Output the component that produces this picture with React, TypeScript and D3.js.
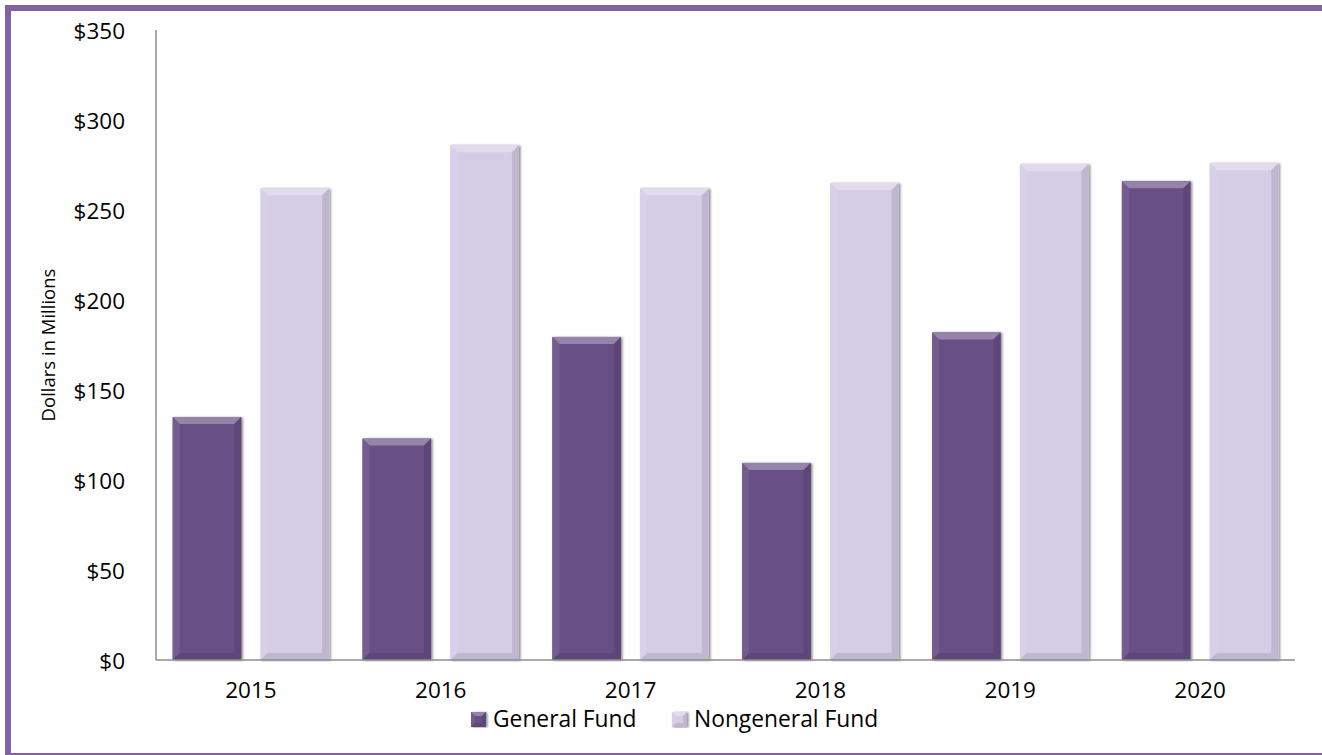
import React from "react";
import * as d3 from "d3";

const years = ["2015", "2016", "2017", "2018", "2019", "2020"];
const generalFund = [135, 123, 179.5, 109.5, 182, 266];
const nongeneralFund = [262, 286, 262, 265, 275.5, 276];
const yTicks = [0, 50, 100, 150, 200, 250, 300, 350];
const seriesNames = ["General Fund", "Nongeneral Fund"];
const seriesColors = ["#674f85", "#d5cce6"];

const W = 1322;
const H = 755;
const FONT = "'Open Sans', sans-serif";

function Bar({ x, y, w, h, color, bevel = 7 }: { x: number; y: number; w: number; h: number; color: string; bevel?: number }) {
  const b = Math.min(bevel, h / 2);
  const c = d3.color(color)!;
  const light = d3.interpolateRgb(color, "#ffffff")(0.3);
  const side = d3.interpolateRgb(color, "#ffffff")(0.08);
  const dark = c.darker(0.3).toString();
  return (
    <g filter="url(#shadow)">
      <rect x={x} y={y} width={w} height={h} fill={color} />
      <polygon points={`${x},${y} ${x + w},${y} ${x + w - b},${y + b} ${x + b},${y + b}`} fill={light} />
      <polygon points={`${x},${y} ${x + b},${y + b} ${x + b},${y + h - b} ${x},${y + h}`} fill={side} />
      <polygon points={`${x + w},${y} ${x + w - b},${y + b} ${x + w - b},${y + h - b} ${x + w},${y + h}`} fill={dark} />
      <polygon points={`${x},${y + h} ${x + b},${y + h - b} ${x + w - b},${y + h - b} ${x + w},${y + h}`} fill={dark} />
    </g>
  );
}

export default function App() {
  const left = 156;
  const right = 1295;
  const top = 30;
  const bottom = 660;
  const x0 = d3.scaleBand<string>().domain(years).range([left, right]).paddingInner(0).paddingOuter(0);
  const x1 = d3.scaleBand<string>().domain(seriesNames).range([0, x0.bandwidth()]).paddingInner(0.22).paddingOuter(0.19);
  const y = d3.scaleLinear().domain([0, 350]).range([bottom, top]);
  const series = [generalFund, nongeneralFund];

  return (
    <svg width={W} height={H} style={{ position: "absolute", left: 0, top: 0 }}>
      <defs>
        <filter id="shadow" x="-20%" y="-5%" width="140%" height="110%">
          <feDropShadow dx="1.5" dy="0.5" stdDeviation="1.3" floodColor="#000" floodOpacity="0.45" />
        </filter>
      </defs>
      <rect x={0} y={0} width={W} height={H} fill="#fff" />
      <rect x={8} y={8} width={1330} height={748} fill="none" stroke="#8064a2" strokeWidth={6} />
      {yTicks.map((t) => (
        <text key={t} x={125} y={y(t)} textAnchor="end" dominantBaseline="central" fontFamily={FONT} fontSize={22.5} fill="#000">
          {`$${t}`}
        </text>
      ))}
      <text transform={`translate(47,345) rotate(-90)`} textAnchor="middle" dominantBaseline="central" fontFamily={FONT} fontSize={18.5} fill="#000">
        Dollars in Millions
      </text>
      {years.map((yr, i) => (
        <g key={yr}>
          {series.map((s, j) => {
            const bx = x0(yr)! + x1(seriesNames[j])!;
            return <Bar key={j} x={bx} y={y(s[i])} w={x1.bandwidth()} h={y(0) - y(s[i])} color={seriesColors[j]} />;
          })}
          <text x={x0(yr)! + x0.bandwidth() / 2} y={698} textAnchor="middle" fontFamily={FONT} fontSize={22.5} fill="#000">
            {yr}
          </text>
        </g>
      ))}
      <line x1={left} x2={left} y1={top} y2={bottom} stroke="#8c8c8c" strokeWidth={1.5} />
      <line x1={left} x2={right} y1={bottom} y2={bottom} stroke="#8c8c8c" strokeWidth={1.5} />
      {seriesNames.map((n, j) => {
        const lx = j === 0 ? 471 : 672;
        return (
          <g key={n}>
            <Bar x={lx} y={712} w={15} h={15} color={seriesColors[j]} bevel={4} />
            <text x={lx + 22} y={727} fontFamily={FONT} fontSize={22.8} fill="#000">
              {n}
            </text>
          </g>
        );
      })}
    </svg>
  );
}
